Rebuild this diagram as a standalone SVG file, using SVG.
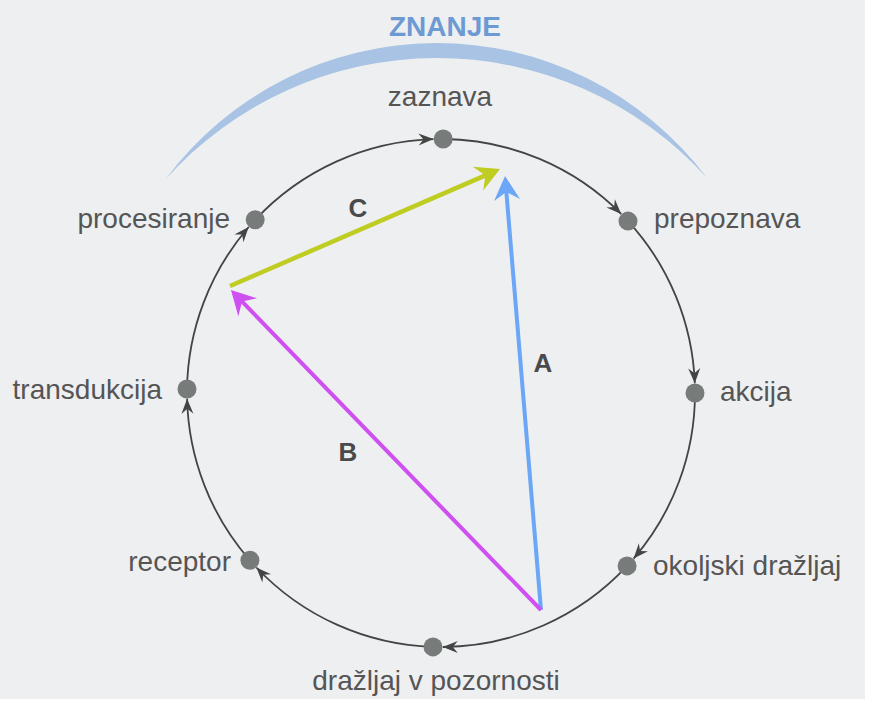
<svg xmlns="http://www.w3.org/2000/svg" width="872" height="706" viewBox="0 0 872 706">
<defs>
<style>
.lbl{font-family:"Liberation Sans",Arial,sans-serif;font-size:28px;fill:#555;}
.let{font-family:"Liberation Sans",Arial,sans-serif;font-size:26px;font-weight:bold;fill:#4a4a4a;text-anchor:middle;}
.dot{fill:#777b79;}
.cyc{fill:none;stroke:#444;stroke-width:1.8;marker-end:url(#ah);}
</style>
<marker id="ah" markerUnits="userSpaceOnUse" viewBox="-16 -8 18 16" markerWidth="18" markerHeight="16" refX="0" refY="0" orient="auto">
<path d="M0,0 L-15,-6 L-10,0 L-15,6 Z" fill="#444"/>
</marker>
<marker id="mb" markerUnits="userSpaceOnUse" viewBox="-26 -15 28 30" markerWidth="28" markerHeight="30" refX="-14" refY="0" orient="auto">
<path d="M0,0 L-24,-13 L-16,0 L-24,13 Z" fill="#6ba6f7"/>
</marker>
<marker id="mg" markerUnits="userSpaceOnUse" viewBox="-26 -15 28 30" markerWidth="28" markerHeight="30" refX="-14" refY="0" orient="auto">
<path d="M0,0 L-24,-13 L-16,0 L-24,13 Z" fill="#bfcc22"/>
</marker>
<marker id="mp" markerUnits="userSpaceOnUse" viewBox="-26 -15 28 30" markerWidth="28" markerHeight="30" refX="-14" refY="0" orient="auto">
<path d="M0,0 L-24,-13 L-16,0 L-24,13 Z" fill="#cf50f0"/>
</marker>
</defs>
<rect x="0" y="0" width="872" height="706" fill="#eeeff1"/>
<rect x="865" y="0" width="7" height="706" fill="#ffffff"/>
<rect x="0" y="699" width="872" height="7" fill="#ffffff"/>

<g id="znanje">
<path d="M165,180 A338,338 0 0 1 707,178 A364,364 0 0 0 165,180 Z" fill="#a8c3e3"/>
<text x="445" y="36" font-family="Liberation Sans,Arial,sans-serif" font-size="28" font-weight="bold" fill="#6d9ad3" text-anchor="middle">ZNANJE</text>
</g>

<g id="connectors">
<path class="cyc" d="M255.2,219.8 A254,254 0 0 1 433.5,139.1"/>
<path class="cyc" d="M443.2,139 A254,254 0 0 1 621.2,214"/>
<path class="cyc" d="M628,221.1 A254,254 0 0 1 694.8,383.2"/>
<path class="cyc" d="M695,393 A254,254 0 0 1 633.6,558.6"/>
<path class="cyc" d="M627.1,565.9 A254,254 0 0 1 442.8,647"/>
<path class="cyc" d="M433,646.9 A254,254 0 0 1 256.4,567.5"/>
<path class="cyc" d="M249.9,560.3 A254,254 0 0 1 187.1,398.8"/>
<path class="cyc" d="M187,389 A254,254 0 0 1 248.7,227"/>
<line x1="541" y1="610" x2="506.2" y2="190" stroke="#6ba6f7" stroke-width="4" marker-end="url(#mb)"/>
<line x1="541" y1="610" x2="240.7" y2="300.1" stroke="#cf50f0" stroke-width="4" marker-end="url(#mp)"/>
<line x1="230" y1="286" x2="487.2" y2="174.6" stroke="#bfcc22" stroke-width="4.5" marker-end="url(#mg)"/>
<text class="let" x="358" y="217">C</text>
<text class="let" x="543" y="372">A</text>
<text class="let" x="348" y="461">B</text>
</g>

<g id="zaznava"><circle class="dot" cx="443.2" cy="139" r="9.5"/><text class="lbl" x="440" y="106" text-anchor="middle">zaznava</text></g>
<g id="prepoznava"><circle class="dot" cx="628" cy="221.1" r="9.5"/><text class="lbl" x="654" y="228">prepoznava</text></g>
<g id="akcija"><circle class="dot" cx="695" cy="393" r="9.5"/><text class="lbl" x="720" y="401">akcija</text></g>
<g id="okoljski"><circle class="dot" cx="627.1" cy="565.9" r="9.5"/><text class="lbl" x="653" y="575">okoljski dražljaj</text></g>
<g id="drazljaj"><circle class="dot" cx="433" cy="646.9" r="9.5"/><text class="lbl" x="436" y="690" text-anchor="middle">dražljaj v pozornosti</text></g>
<g id="receptor"><circle class="dot" cx="249.9" cy="560.3" r="9.5"/><text class="lbl" x="231" y="571" text-anchor="end">receptor</text></g>
<g id="transdukcija"><circle class="dot" cx="187" cy="389" r="9.5"/><text class="lbl" x="162" y="399" text-anchor="end">transdukcija</text></g>
<g id="procesiranje"><circle class="dot" cx="255.2" cy="219.8" r="9.5"/><text class="lbl" x="230" y="228" text-anchor="end">procesiranje</text></g>
</svg>
